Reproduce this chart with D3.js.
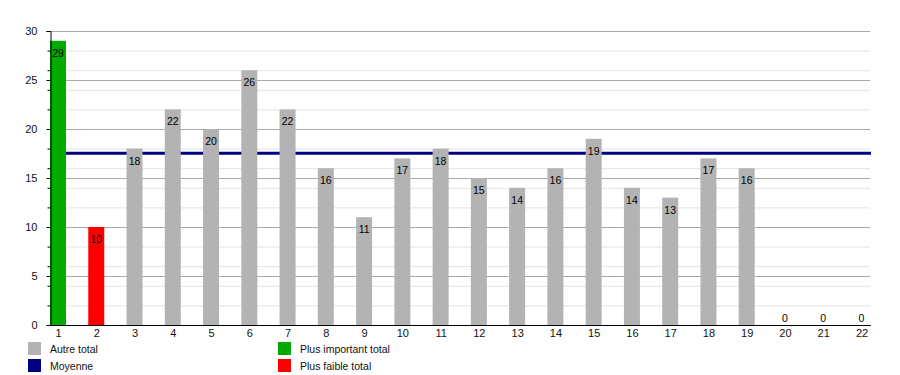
<!DOCTYPE html>
<html><head><meta charset="utf-8">
<script src="https://cdn.jsdelivr.net/npm/d3@7"></script>
<style>body{margin:0;background:#fff}svg{display:block;font-family:"Liberation Sans",Arial,sans-serif}</style>
</head><body><svg id="c" width="900" height="375"></svg>
<script>
const categories = ["1","2","3","4","5","6","7","8","9","10","11","12","13","14","15","16","17","18","19","20","21","22"];
const totals = [29,10,18,22,20,26,22,16,11,17,18,15,14,16,19,14,13,17,16,0,0,0];
const yTicks = [0,5,10,15,20,25,30];
const legendItems = [
  {label:"Autre total", color:"#b3b3b3"},
  {label:"Moyenne", color:"#000080"},
  {label:"Plus important total", color:"#00aa00"},
  {label:"Plus faible total", color:"#ff0000"}
];

const svg = d3.select("#c");
const L = 50, R = 870, T = 31, B = 325;
const x = d3.scalePoint().domain(categories).range([58, 861.5]);
const y = d3.scaleLinear().domain([0,30]).range([B, T]);

const nonZero = totals.filter(v => v > 0);
const mean = d3.mean(nonZero);
const maxV = d3.max(totals), minV = d3.min(nonZero);

// minor grid
const minor = d3.range(2, 30, 2).filter(v => v % 5 !== 0);
svg.append("g").selectAll("line").data(minor).join("line")
  .attr("x1", L).attr("x2", R).attr("y1", d => y(d)+0.5).attr("y2", d => y(d)+0.5)
  .attr("stroke", "#e3e3e3").attr("stroke-width", 1);
// major grid
svg.append("g").selectAll("line").data(yTicks.filter(v => v > 0)).join("line")
  .attr("x1", L).attr("x2", R).attr("y1", d => y(d)+0.5).attr("y2", d => y(d)+0.5)
  .attr("stroke", "#aaaaaa").attr("stroke-width", 1);

// mean line
svg.append("line").attr("x1", L).attr("x2", R+1)
  .attr("y1", y(mean)).attr("y2", y(mean))
  .attr("stroke", "#000080").attr("stroke-width", 3);

// bars
const bw = 16;
const colorOf = (v, i) => v === maxV ? "#00aa00" : (v === minV ? "#ff0000" : "#b3b3b3");
svg.append("g").selectAll("rect").data(totals).join("rect")
  .attr("x", (d,i) => x(categories[i]) - bw/2)
  .attr("y", d => y(d))
  .attr("width", bw)
  .attr("height", d => B - y(d))
  .attr("fill", (d,i) => colorOf(d,i));

// value labels
svg.append("g").selectAll("text").data(totals).join("text")
  .attr("x", (d,i) => x(categories[i]))
  .attr("y", d => d > 0 ? y(d) + 16 : y(d) - 3)
  .attr("text-anchor", "middle")
  .attr("font-size", 10.5).attr("fill", "#000")
  .text(d => d);

// y axis
const yAxis = svg.append("g").attr("transform", `translate(${L+0.5},0)`)
  .call(d3.axisLeft(y).tickValues(yTicks).tickSize(4).tickPadding(9).tickFormat(d3.format("d")));
yAxis.select(".domain").attr("stroke", "#000");
yAxis.selectAll(".tick line").attr("stroke", "#000");
yAxis.selectAll("text").attr("font-size", 11).attr("fill", "#111").attr("font-family", "Liberation Sans, Arial, sans-serif");
svg.append("g").attr("transform", `translate(${L+0.5},0)`)
  .call(d3.axisLeft(y).tickValues(minor).tickSize(3).tickFormat(""))
  .call(g => g.select(".domain").remove())
  .selectAll(".tick line").attr("stroke", "#000");

// x axis
const xAxis = svg.append("g").attr("transform", `translate(0,${B+0.5})`)
  .call(d3.axisBottom(x).tickSize(0).tickPadding(4));
xAxis.select(".domain").attr("d", `M${L},0H${R+1}`).attr("stroke", "#000");
xAxis.selectAll("text").attr("font-size", 11).attr("fill", "#111").attr("font-family", "Liberation Sans, Arial, sans-serif");

// legend
const lg = svg.append("g").selectAll("g").data(legendItems).join("g")
  .attr("transform", (d,i) => `translate(${i < 2 ? 28 : 278},${342 + (i % 2) * 17})`);
lg.append("rect").attr("width", 13).attr("height", 13).attr("fill", d => d.color);
lg.append("text").attr("x", 22).attr("y", 11).attr("font-size", 10.5).attr("fill", "#111").text(d => d.label);
</script></body></html>
